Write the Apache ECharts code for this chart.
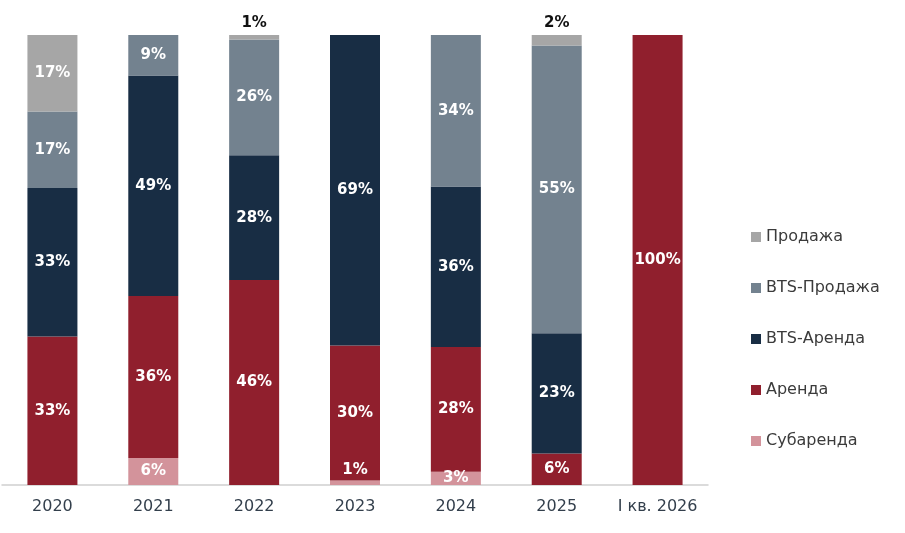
<!DOCTYPE html>
<html>
<head>
<meta charset="utf-8">
<script src="https://cdn.jsdelivr.net/npm/echarts@6/dist/echarts.min.js"></script>
<style>
  html, body { margin: 0; padding: 0; background: #fff; }
  #chart { width: 905px; height: 533px; }
</style>
</head>
<body>
<div id="chart"></div>
<script>
const categories = ['2020', '2021', '2022', '2023', '2024', '2025', 'I кв. 2026']

// доли по категориям (как подписаны на графике), %
const subarenda = [0, 6, 0, 1, 3, 0, 0]
const arenda = [33, 36, 46, 30, 28, 6, 100]
const btsArenda = [33, 49, 28, 69, 36, 23, 0]
const btsProdazha = [17, 9, 26, 0, 34, 55, 0]
const prodazha = [17, 0, 1, 0, 0, 2, 0]

const seriesDefs = [
  { name: 'Субаренда', data: subarenda, color: '#d3939b' },
  { name: 'Аренда', data: arenda, color: '#901f2d' },
  { name: 'BTS-Аренда', data: btsArenda, color: '#182d44' },
  { name: 'BTS-Продажа', data: btsProdazha, color: '#73828f' },
  { name: 'Продажа', data: prodazha, color: '#a6a6a6' }
]

// 100% stacked: each column normalised to its own total
const totals = categories.map((_, i) => seriesDefs.reduce((s, d) => s + d.data[i], 0))

const labelFont = { fontFamily: 'DejaVu Sans', fontWeight: 'bold', fontSize: 15 }

const buildSeries = () => seriesDefs.map(def => ({
  name: def.name,
  type: 'bar',
  stack: 'total',
  barWidth: 50,
  itemStyle: { color: def.color },
  data: def.data.map((v, i) => {
    const item = { value: v ? v / totals[i] * 100 : 0, raw: v }
    if (def.name === 'Продажа' && v < 5) {
      item.label = { position: 'top', color: '#111', distance: 4 }
    }
    if (def.name === 'Субаренда' && v < 2) {
      item.label = { position: 'top', distance: 3 }
    }
    return item
  }),
  label: {
    show: true,
    position: 'inside',
    color: '#fff',
    ...labelFont,
    formatter: p => (p.data.raw ? p.data.raw + '%' : '')
  }
}))

const chart = echarts.init(document.getElementById('chart'))
chart.setOption({
  backgroundColor: '#fff',
  animation: false,
  grid: { left: 2, right: 197, top: 35, bottom: 48 },
  legend: {
    orient: 'vertical',
    left: 746,
    top: 224,
    itemWidth: 10,
    itemHeight: 10,
    itemGap: 35,
    icon: 'rect',
    data: ['Продажа', 'BTS-Продажа', 'BTS-Аренда', 'Аренда', 'Субаренда'],
    textStyle: { color: '#3b3b3b', fontFamily: 'DejaVu Sans', fontSize: 16 }
  },
  xAxis: {
    type: 'category',
    data: categories,
    axisTick: { show: false },
    axisLine: { lineStyle: { color: '#d0d0d0', width: 1.5 } },
    axisLabel: { interval: 0, color: '#333f4c', fontFamily: 'DejaVu Sans', fontSize: 16, margin: 14 }
  },
  yAxis: {
    type: 'value',
    min: 0,
    max: 100,
    show: false,
    splitLine: { show: false }
  },
  series: buildSeries()
})
</script>
</body>
</html>
